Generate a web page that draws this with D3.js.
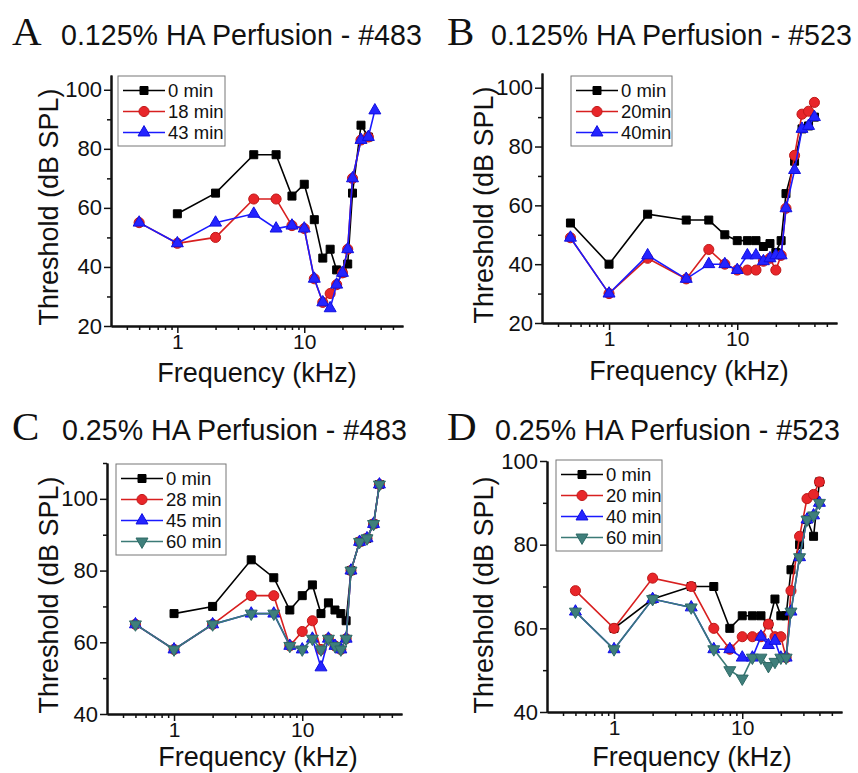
<!DOCTYPE html>
<html>
<head>
<meta charset="utf-8">
<script src="https://cdn.jsdelivr.net/npm/d3@7"></script>
<style>
body { margin: 0; background: #fff; }
text { font-family: "Liberation Sans", Arial, sans-serif; fill: #111; }
.letter { font-family: "Liberation Serif", "Times New Roman", serif; }
.axis .domain { stroke: #111; stroke-width: 2; }
.axis line { stroke: #111; stroke-width: 1.5; }
.axis text { font-size: 22px; }
.xaxis text { font-size: 21px; }
</style>
</head>
<body>
<svg id="chart" width="858" height="773"></svg>
<script>
// frequencies (kHz)
var freqA = [0.5, 1, 2, 4, 6, 8, 10, 12, 14, 16, 18, 20, 22, 24, 28, 32, 36];
var freqB = [0.5, 1, 2, 4, 6, 8, 10, 12, 14, 16, 18, 20, 22, 24, 28, 32, 36, 40];
var freqC = freqB;
var freqD = freqB;

// A: 0.125% HA, #483
var namesA = ["0 min", "18 min", "43 min"];
var a0  = [null, 58, 65, 78, 78, 64, 68, 56, 43, 46, 39, 38, 41, 65, 88, 84, null];
var a18 = [55, 48, 50, 63, 63, 54, 53, 36, 28, 31, 34, 38, 46, 70, 83, 84, null];
var a43 = [55, 48, 55, 58, 53, 54, 53, 36, 28, 26, 34, 38, 46, 70, 83, 84, 93];

// B: 0.125% HA, #523
var namesB = ["0 min", "20min", "40min"];
var b0  = [54, 40, 57, 55, 55, 50, 48, 48, 48, 46, 47, 44, 48, 64, 75, 86, 87, 90];
var b20 = [49, 30, 42, 35, 45, 40, 38, 38, 38, 41, 42, 38, 43, 59, 77, 91, 92, 95];
var b40 = [49, 30, 43, 35, 40, 40, 38, 43, 43, 41, 42, 43, 43, 59, 72, 86, 87, 90];

// C: 0.25% HA, #483
var namesC = ["0 min", "28 min", "45 min", "60 min"];
var c0  = [null, 68, 70, 83, 78, 69, 73, 76, 68, 71, 69, 68, 66, 80, 88, 89, 93, 104];
var c28 = [65, 58, 65, 73, 73, 59, 63, 66, 58, 61, 59, 58, 61, 80, 88, 89, 93, 104];
var c45 = [65, 58, 65, 68, 68, 59, 58, 61, 53, 61, 59, 58, 61, 80, 88, 89, 93, 104];
var c60 = [65, 58, 65, 68, 68, 59, 58, 61, 58, 61, 59, 58, 61, 80, 88, 89, 93, 104];

// D: 0.25% HA, #523
var namesD = ["0 min", "20 min", "40 min", "60 min"];
var d0  = [null, 60, 67, 70, 70, 60, 63, 63, 63, 61, 67, 63, 63, 74, 80, 86, 82, 95];
var d20 = [69, 60, 72, 70, 60, 55, 58, 58, 58, 61, 58, 58, 53, 69, 82, 91, 92, 95];
var d40 = [64, 55, 67, 65, 55, 55, 53, 53, 58, 56, 57, 53, 53, 64, 77, 86, 87, 90];
var d60 = [64, 55, 67, 65, 55, 50, 48, 53, 53, 51, 52, 53, 53, 64, 77, 86, 87, 90];

var xMajor = [1, 10];
var xMinor = [0.4, 0.5, 0.6, 0.7, 0.8, 0.9, 2, 3, 4, 5, 6, 7, 8, 9, 20, 30, 40, 50];

var lineColors = ["#000000", "#d81f1f", "#1a1aff", "#3b7a76"];
var fillColors = ["#000000", "#e8262a", "#2424ff", "#3f7f7b"];
var strokeColors = ["#000000", "#c01818", "#1010e0", "#2f6a66"];
var shapes = [d3.symbolSquare, d3.symbolCircle, d3.symbolTriangle, d3.symbolTriangle];
var sizes = [64, 80, 62, 62];

var panels = [
  {letter: "A", title: "0.125% HA Perfusion - #483", lx: 12, tx: 61, ty: 45,
   left: 111, right: 403, top: 75, bottom: 326, yDomain: [20, 105],
   yMajor: [20, 40, 60, 80, 100], yMinor: [30, 50, 70, 90],
   freq: freqA, series: [a0, a18, a43], names: namesA,
   legX: 118, legY: 76, legW: 107,
   yTitleX: 58, yTitleY: 207, xTitleX: 257, xTitleY: 382},
  {letter: "B", title: "0.125% HA Perfusion - #523", lx: 447, tx: 491, ty: 45,
   left: 542, right: 837, top: 73, bottom: 323, yDomain: [20, 105],
   yMajor: [20, 40, 60, 80, 100], yMinor: [30, 50, 70, 90],
   freq: freqB, series: [b0, b20, b40], names: namesB,
   legX: 571, legY: 76, legW: 101,
   yTitleX: 493, yTitleY: 205, xTitleX: 689, xTitleY: 380},
  {letter: "C", title: "0.25% HA Perfusion - #483", lx: 12, tx: 62, ty: 440,
   left: 107, right: 402, top: 463, bottom: 714, yDomain: [40, 110],
   yMajor: [40, 60, 80, 100], yMinor: [50, 70, 90, 110],
   freq: freqC, series: [c0, c28, c45, c60], names: namesC,
   legX: 116, legY: 464, legW: 110,
   yTitleX: 58, yTitleY: 595, xTitleX: 258, xTitleY: 766},
  {letter: "D", title: "0.25% HA Perfusion - #523", lx: 447, tx: 495, ty: 440,
   left: 547, right: 842, top: 461, bottom: 712, yDomain: [40, 100],
   yMajor: [40, 60, 80, 100], yMinor: [50, 70, 90],
   freq: freqD, series: [d0, d20, d40, d60], names: namesD,
   legX: 556, legY: 460, legW: 106,
   yTitleX: 493, yTitleY: 595, xTitleX: 692, xTitleY: 766}
];

var svg = d3.select("#chart");
svg.append("rect").attr("width", 858).attr("height", 773).attr("fill", "#fff");

function marker(g, i, px, py) {
  var rot = i === 3 ? " rotate(180)" : "";
  g.append("path")
    .attr("d", d3.symbol().type(shapes[i]).size(sizes[i])())
    .attr("transform", `translate(${px},${py})${rot}`)
    .attr("fill", fillColors[i])
    .attr("stroke", strokeColors[i])
    .attr("stroke-width", 1);
}

panels.forEach(function(p) {
  var x = d3.scaleLog().domain([0.3, 60]).range([p.left, p.right]);
  var y = d3.scaleLinear().domain(p.yDomain).range([p.bottom, p.top]);
  var g = svg.append("g");

  // headings
  g.append("text").attr("class", "letter").attr("x", p.lx).attr("y", p.ty)
    .style("font-size", "41px").text(p.letter);
  g.append("text").attr("x", p.tx).attr("y", p.ty)
    .style("font-size", "28.6px").text(p.title);

  // axes
  g.append("g").attr("class", "axis")
    .attr("transform", `translate(0,${p.bottom})`)
    .call(d3.axisBottom(x).tickValues(xMinor).tickSize(4).tickSizeOuter(0).tickFormat(""));
  g.append("g").attr("class", "axis xaxis")
    .attr("transform", `translate(0,${p.bottom})`)
    .call(d3.axisBottom(x).tickValues(xMajor).tickSize(7).tickSizeOuter(0)
      .tickPadding(1).tickFormat(d3.format("d")));
  g.append("g").attr("class", "axis")
    .attr("transform", `translate(${p.left},0)`)
    .call(d3.axisLeft(y).tickValues(p.yMinor).tickSize(4).tickSizeOuter(0).tickFormat(""));
  g.append("g").attr("class", "axis")
    .attr("transform", `translate(${p.left},0)`)
    .call(d3.axisLeft(y).tickValues(p.yMajor).tickSize(7).tickSizeOuter(0).tickPadding(2));

  g.append("text")
    .attr("transform", `translate(${p.yTitleX},${p.yTitleY}) rotate(-90)`)
    .attr("text-anchor", "middle").style("font-size", "27px")
    .text("Threshold (dB SPL)");
  g.append("text").attr("x", p.xTitleX).attr("y", p.xTitleY)
    .attr("text-anchor", "middle").style("font-size", "27px")
    .text("Frequency (kHz)");

  // series
  p.series.forEach(function(vals, i) {
    var pts = p.freq.map((f, k) => ({f: f, v: vals[k]})).filter(d => d.v != null);
    var line = d3.line().x(d => x(d.f)).y(d => y(d.v));
    g.append("path").datum(pts)
      .attr("d", line)
      .attr("fill", "none")
      .attr("stroke", lineColors[i])
      .attr("stroke-width", 1.6);
    pts.forEach(d => marker(g, i, x(d.f), y(d.v)));
  });

  // legend
  var n = p.names.length;
  var leg = g.append("g");
  leg.append("rect").attr("x", p.legX).attr("y", p.legY)
    .attr("width", p.legW).attr("height", 28 + 21 * (n - 1))
    .attr("fill", "#fff").attr("stroke", "#777").attr("stroke-width", 1);
  p.names.forEach(function(name, i) {
    var ry = p.legY + 14.5 + 21 * i;
    leg.append("line").attr("x1", p.legX + 5).attr("x2", p.legX + 47)
      .attr("y1", ry).attr("y2", ry)
      .attr("stroke", lineColors[i]).attr("stroke-width", 1.6);
    marker(leg, i, p.legX + 26, ry);
    leg.append("text").attr("x", p.legX + 50).attr("y", ry + 6.5)
      .style("font-size", "18.5px").text(name);
  });
});
</script>
</body>
</html>
